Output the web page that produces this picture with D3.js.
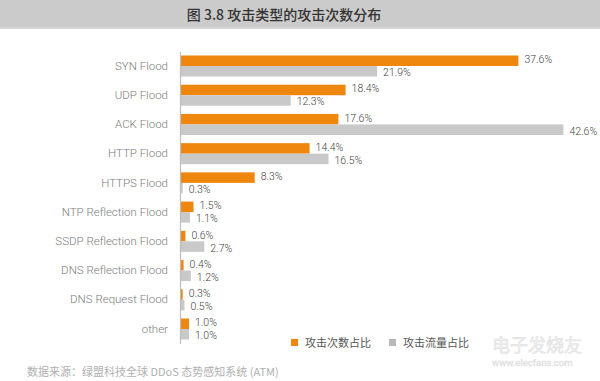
<!DOCTYPE html>
<html><head><meta charset="utf-8">
<script src="https://cdn.jsdelivr.net/npm/d3@7"></script>
<style>body{margin:0;background:#fff}svg{display:block}</style>
</head><body>
<script>
const categories = ["SYN Flood","UDP Flood","ACK  Flood","HTTP Flood","HTTPS Flood","NTP Reflection Flood","SSDP Reflection Flood","DNS Reflection Flood","DNS Request Flood","other"];
const attackCount = [37.6,18.4,17.6,14.4,8.3,1.5,0.6,0.4,0.3,1.0];
const attackTraffic = [21.9,12.3,42.6,16.5,0.3,1.1,2.7,1.2,0.5,1.0];
const seriesNames = ["攻击次数占比","攻击流量占比"];
const title = "图 3.8 攻击类型的攻击次数分布";
const source = "数据来源：绿盟科技全球 DDoS 态势感知系统 (ATM)";
const colors = ["#ef860e","#c9c9c9"];

const W=600,H=381;
const svg=d3.select("body").append("svg").attr("width",W).attr("height",H);
svg.append("rect").attr("x",0).attr("y",0).attr("width",W).attr("height",28).attr("fill","#cbcbcb");
svg.append("rect").attr("x",0).attr("y",27).attr("width",W).attr("height",2).attr("fill","#d6d6d6");
svg.append("text").attr("x",284).attr("y",20).attr("text-anchor","middle")
  .attr("font-family","Noto Sans CJK SC, sans-serif").attr("font-size",14).attr("font-weight",500).attr("fill","#333").text(title);

const x=d3.scaleLinear().domain([0,45]).range([180,585]);
const y=d3.scaleBand().domain(categories).range([51.4,343.6]).paddingInner(0.28).paddingOuter(0.14);
const ySub=d3.scaleBand().domain([0,1]).range([0,y.bandwidth()]);

const font="Roboto, 'Noto Sans CJK SC', sans-serif";
const series=[attackCount,attackTraffic];
const labelShift=[-1,1.5];
series.forEach((vals,si)=>{
  const g=svg.append("g");
  g.selectAll("rect").data(vals).join("rect")
    .attr("x",x(0)).attr("y",(d,i)=>y(categories[i])+ySub(si))
    .attr("width",d=>x(d)-x(0)).attr("height",ySub.bandwidth()).attr("fill",colors[si]);
  g.selectAll("text").data(vals).join("text")
    .attr("x",d=>x(d)+6).attr("y",(d,i)=>y(categories[i])+ySub(si)+ySub.bandwidth()/2+labelShift[si])
    .attr("dominant-baseline","central")
    .attr("font-family",font).attr("font-size",10.5).attr("font-weight",300).attr("fill","#444")
    .text(d=>d.toFixed(1)+"%");
});

const yAxis=d3.axisLeft(y).tickSize(0).tickPadding(12);
const ag=svg.append("g").attr("transform",`translate(${x(0)},0)`).call(yAxis);
ag.select(".domain").attr("stroke","#bdbdbd").attr("stroke-width",1.2);
ag.selectAll("text").attr("font-family",font).attr("font-size",11.5).attr("font-weight",300).attr("fill","#7d7d7d");

// legend
const legX=[291,389];
const legColors=["#ef860e","#b9b9b9"];
seriesNames.forEach((n,i)=>{
  svg.append("rect").attr("x",legX[i]).attr("y",339).attr("width",7).attr("height",7).attr("fill",legColors[i]);
  svg.append("text").attr("x",legX[i]+14).attr("y",347).attr("font-family","Noto Sans CJK SC, sans-serif")
    .attr("font-size",11).attr("fill","#555").text(n);
});

svg.append("text").attr("x",27).attr("y",376).attr("font-family","Noto Sans CJK SC, sans-serif")
  .attr("font-size",11).attr("fill","#b0b0b0").text(source);

// watermark
svg.append("text").attr("x",492).attr("y",352).attr("font-family","Noto Sans CJK SC, sans-serif")
  .attr("font-size",18).attr("fill","#f0f0f0").attr("stroke","#e2e2e2").attr("stroke-width",0.6).text("电子发烧友");
svg.append("text").attr("x",492).attr("y",366).attr("font-family","Roboto, sans-serif")
  .attr("font-size",9.5).attr("fill","#f2f2f2").attr("stroke","#e0e0e0").attr("stroke-width",0.5).text("www.elecfans.com");
</script>
</body></html>
